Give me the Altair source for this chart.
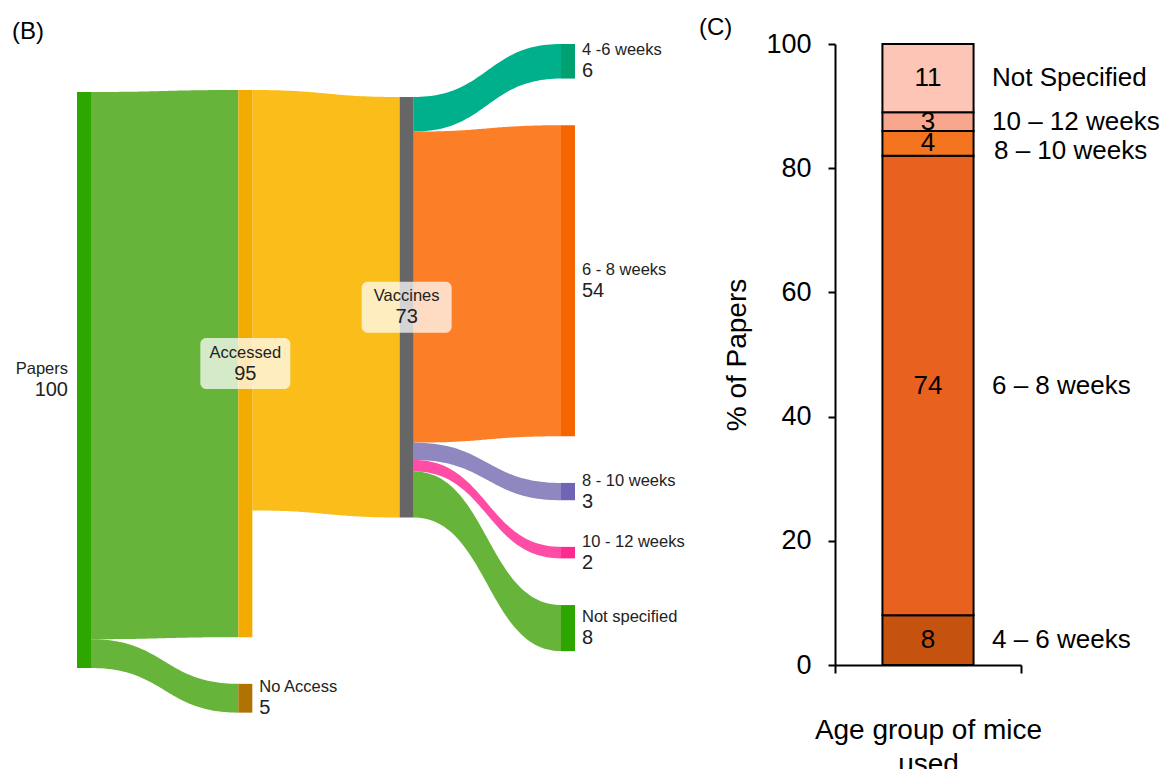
import altair as alt
import pandas as pd
import numpy as np

# ---------------- Panel (B): Sankey data ----------------
node_names = ["Papers", "Accessed", "No Access", "Vaccines",
              "4 -6 weeks", "6 - 8 weeks", "8 - 10 weeks", "10 - 12 weeks", "Not specified"]
node_columns = [0, 1, 1, 2, 3, 3, 3, 3, 3]
link_sources = ["Papers", "Papers", "Accessed", "Vaccines", "Vaccines", "Vaccines", "Vaccines", "Vaccines"]
link_targets = ["Accessed", "No Access", "Vaccines", "4 -6 weeks", "6 - 8 weeks",
                "8 - 10 weeks", "10 - 12 weeks", "Not specified"]
link_values = [95, 5, 73, 6, 54, 3, 2, 8]

# ---------------- Panel (C): stacked bar data ----------------
age_groups = ["4 – 6 weeks", "6 – 8 weeks", "8 – 10 weeks", "10 – 12 weeks", "Not Specified"]
age_percent = [8, 74, 4, 3, 11]
y_ticks = [0, 20, 40, 60, 80, 100]

# ---------------- styles ----------------
node_colors = ["#2ea600", "#f4ab00", "#b07200", "#666666",
               "#00a070", "#f56600", "#7064b4", "#ff2a8f", "#2ea600"]
link_colors = ["#66b43a", "#66b43a", "#fbbd19", "#00b08c", "#fc7f28", "#8e87c0", "#ff4da6", "#66b43a"]
age_colors = ["#c5520f", "#e9611f", "#f5741f", "#f8a68e", "#fdc5b5"]
FONT = "Liberation Sans"

# ---------------- Sankey layout (computed from the values) ----------------
PX_PER_UNIT = 5.76
COL_STEP_PX = 161.33
NODE_W_PX = 14
COLUMN_TOP = [0.0, -0.35, 0.87, -8.33]
GAP = 8.1
W1, H1 = 720, 753
nw = NODE_W_PX / COL_STEP_PX

col = dict(zip(node_names, node_columns))
inflow = {n: 0 for n in node_names}
outflow = {n: 0 for n in node_names}
for s, t, v in zip(link_sources, link_targets, link_values):
    outflow[s] += v
    inflow[t] += v
node_val = {n: max(inflow[n], outflow[n]) for n in node_names}

node_y0 = {}
cursor = {}
for n in node_names:
    c = col[n]
    start = cursor.get(c, COLUMN_TOP[c])
    node_y0[n] = start
    cursor[c] = start + node_val[n] + GAP

nodes_df = pd.DataFrame({
    "name": node_names,
    "x0": [col[n] for n in node_names],
    "x1": [col[n] + nw for n in node_names],
    "y0": [node_y0[n] for n in node_names],
    "y1": [node_y0[n] + node_val[n] for n in node_names],
    "fill": node_colors,
})

u = np.linspace(0, 1, 60)
bx = 1.5 * u * (1 - u) + u ** 3
by = 3 * u ** 2 - 2 * u ** 3
src_off = dict(node_y0)
tgt_off = dict(node_y0)
rows = []
for i, (s, t, v) in enumerate(zip(link_sources, link_targets, link_values)):
    sy = src_off[s]; src_off[s] += v
    ty = tgt_off[t]; tgt_off[t] += v
    xa, xb = col[s] + nw, col[t]
    for a, b in zip(bx, by):
        yy = sy + (ty - sy) * b
        rows.append({"link": i, "x": xa + (xb - xa) * a, "top": yy, "bot": yy + v,
                     "fill": link_colors[i]})
links_df = pd.DataFrame(rows)

lab_rows = []
for n in node_names:
    if inflow[n] == 0:
        kind, lx = "left", col[n] - 9 / COL_STEP_PX
    elif outflow[n] == 0:
        kind, lx = "right", col[n] + nw + 7 / COL_STEP_PX
    else:
        kind, lx = "box", col[n] + nw / 2
    cy = node_y0[n] + node_val[n] / 2
    lab_rows.append({"name": n, "val": str(node_val[n]), "kind": kind, "lx": lx, "cy": cy,
                     "bx0": lx - 45 / COL_STEP_PX, "bx1": lx + 45 / COL_STEP_PX,
                     "by0": cy - 25.5 / PX_PER_UNIT, "by1": cy + 25.5 / PX_PER_UNIT})
labels_df = pd.DataFrame(lab_rows)

xmin = -69 / COL_STEP_PX
xs = alt.Scale(domain=[xmin, xmin + W1 / COL_STEP_PX], nice=False, zero=False)
vmin = -84 / PX_PER_UNIT
ys = alt.Scale(domain=[vmin, vmin + H1 / PX_PER_UNIT], nice=False, zero=False, reverse=True)

link_layer = alt.Chart(links_df).mark_area(orient="vertical", interpolate="linear").encode(
    x=alt.X("x:Q", scale=xs, axis=None),
    y=alt.Y("top:Q", scale=ys, axis=None, stack=None),
    y2="bot:Q",
    color=alt.Color("fill:N", scale=None),
    detail="link:N",
)
node_layer = alt.Chart(nodes_df).mark_rect().encode(
    x=alt.X("x0:Q", scale=xs, axis=None), x2="x1:Q",
    y=alt.Y("y0:Q", scale=ys, axis=None), y2="y1:Q",
    color=alt.Color("fill:N", scale=None),
)
box_layer = alt.Chart(labels_df).transform_filter(alt.datum.kind == "box").mark_rect(
    fill="white", opacity=0.72, cornerRadius=6).encode(
    x=alt.X("bx0:Q", scale=xs, axis=None), x2="bx1:Q",
    y=alt.Y("by0:Q", scale=ys, axis=None), y2="by1:Q",
)

def label_layers(kind, align):
    base = alt.Chart(labels_df).transform_filter(alt.datum.kind == kind)
    enc = dict(x=alt.X("lx:Q", scale=xs, axis=None), y=alt.Y("cy:Q", scale=ys, axis=None))
    name = base.mark_text(align=align, baseline="middle", fontSize=16.5, dy=-11,
                          color="#222222", font=FONT).encode(text="name:N", **enc)
    val = base.mark_text(align=align, baseline="middle", fontSize=20, dy=10,
                         color="#222222", font=FONT).encode(text="val:N", **enc)
    return [name, val]

panel_b = alt.Chart(pd.DataFrame({"t": ["(B)"]})).mark_text(
    align="left", baseline="middle", fontSize=24, font=FONT, color="black").encode(
    text="t:N", x=alt.value(4), y=alt.value(24))
panel_c = alt.Chart(pd.DataFrame({"t": ["(C)"]})).mark_text(
    align="left", baseline="middle", fontSize=24, font=FONT, color="black").encode(
    text="t:N", x=alt.value(691), y=alt.value(20))

left = alt.layer(
    link_layer, node_layer, box_layer,
    *label_layers("left", "right"), *label_layers("right", "left"), *label_layers("box", "center"),
    panel_b, panel_c,
).properties(width=W1, height=H1)

# ---------------- Panel (C) chart ----------------
W2, H2 = 186, 657
bar_df = pd.DataFrame({"age": age_groups, "pct": age_percent,
                       "idx": list(range(len(age_groups))), "grp": "mice"})
ysc = alt.Scale(domain=[0, 100], range=[H2, 36], nice=False)
xsc = alt.Scale(paddingInner=0, paddingOuter=0)

base_c = alt.Chart(bar_df).transform_stack(
    stack="pct", as_=["s0", "s1"], groupby=["grp"], sort=[alt.SortField("idx")]
).transform_calculate(mid="(datum.s0 + datum.s1) / 2")

bars = base_c.mark_bar(width=alt.RelativeBandSize(0.49), stroke="black", strokeWidth=2).encode(
    x=alt.X("grp:N", scale=xsc, axis=alt.Axis(
        labels=False, tickBand="extent", tickSize=8, tickWidth=2, tickColor="black",
        domainColor="black", domainWidth=2,
        title=["Age group of mice", "used"], titleFontSize=28, titleFontWeight="normal",
        titleColor="black", titlePadding=42, titleLineHeight=34)),
    y=alt.Y("s0:Q", scale=ysc, axis=alt.Axis(
        values=y_ticks, tickSize=7, tickWidth=2, tickColor="black",
        domainColor="black", domainWidth=2, grid=False,
        labelFontSize=27, labelColor="black", labelPadding=17,
        title="% of Papers", titleFontSize=28, titleFontWeight="normal",
        titleColor="black", titlePadding=14)),
    y2="s1:Q",
    color=alt.Color("age:N", scale=alt.Scale(domain=age_groups, range=age_colors), legend=None),
)
vals = base_c.mark_text(fontSize=26, font=FONT, color="black", baseline="middle").encode(
    x=alt.X("grp:N", scale=xsc), y=alt.Y("mid:Q", scale=ysc), text="pct:Q")
names_main = base_c.transform_filter(alt.datum.age != "8 – 10 weeks").mark_text(
    fontSize=26, font=FONT, color="black", align="left", baseline="middle", dx=64).encode(
    x=alt.X("grp:N", scale=xsc), y=alt.Y("mid:Q", scale=ysc), text="age:N")
names_nudged = base_c.transform_filter(alt.datum.age == "8 – 10 weeks").mark_text(
    fontSize=26, font=FONT, color="black", align="left", baseline="middle", dx=66, dy=8).encode(
    x=alt.X("grp:N", scale=xsc), y=alt.Y("mid:Q", scale=ysc), text="age:N")

right = alt.layer(bars, vals, names_main, names_nudged).properties(width=W2, height=H2)

chart = alt.hconcat(left, right, spacing=107, bounds="flush").properties(padding=0).configure_view(
    stroke=None).configure_axis(labelFont=FONT, titleFont=FONT)

chart.save("out.html", embed_options={"renderer": "svg", "actions": False})
